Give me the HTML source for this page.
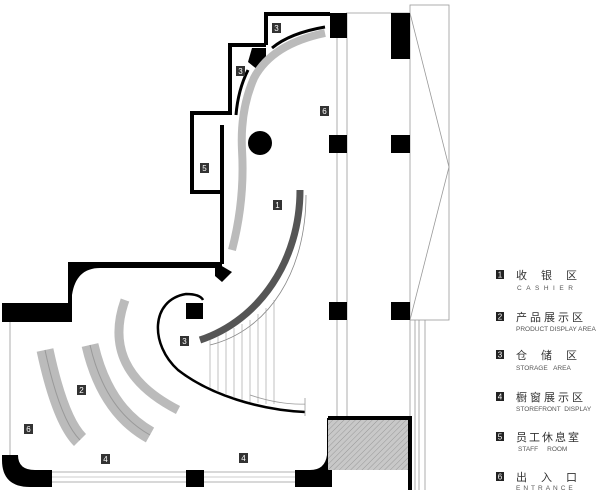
<!DOCTYPE html>
<html><head><meta charset="utf-8"><style>
html,body{margin:0;padding:0;background:#fff;width:611px;height:494px;overflow:hidden}
svg{display:block}
.lb{font-family:"Liberation Sans","Noto Sans CJK SC",sans-serif}
</style></head><body>
<svg width="611" height="494" viewBox="0 0 611 494" xmlns="http://www.w3.org/2000/svg">
<defs>
<pattern id="h" width="4" height="4" patternUnits="userSpaceOnUse" patternTransform="rotate(45)">
<rect width="4" height="4" fill="#c8c8c8"/><line x1="0" y1="0" x2="0" y2="4" stroke="#999" stroke-width="1"/>
</pattern>
</defs>
<g fill="none" stroke="#999" stroke-width="0.8">
<line x1="337" y1="13" x2="337" y2="470"/>
<line x1="347" y1="13" x2="347" y2="418"/>
<line x1="346" y1="13" x2="410" y2="13"/>
<rect x="410" y="5" width="39" height="315"/>
<polyline points="410,13 449,167 410,320"/>
<line x1="410" y1="320" x2="410" y2="490"/>
<line x1="415" y1="320" x2="415" y2="490"/>
<line x1="419" y1="320" x2="419" y2="490"/>
<line x1="425" y1="320" x2="425" y2="490"/>
<line x1="10" y1="322" x2="10" y2="455"/>
<line x1="50" y1="472" x2="295" y2="472"/>
<line x1="50" y1="482" x2="295" y2="482"/>
<line x1="50" y1="477" x2="295" y2="477" stroke="#bbb"/>
</g>
<g fill="#000">
<rect x="330" y="13" width="17" height="25"/>
<rect x="391" y="13" width="19" height="46"/>
<rect x="329" y="135" width="18" height="18"/>
<rect x="391" y="135" width="19" height="18"/>
<rect x="329" y="302" width="18" height="18"/>
<rect x="391" y="302" width="19" height="18"/>
<rect x="186" y="470" width="18" height="17"/>
<circle cx="260" cy="143" r="12"/>
<path d="M2,303 H68 V262 H222 V268 H100 Q76,268 72,295 V322 H2Z"/>
<path d="M2,455 H18 Q18,470 35,470 H52 V487 H30 Q2,487 2,460Z"/>
<path d="M295,487 V470 H310 Q325,470 327,455 V418 H332 V487Z"/>
<path d="M215,262 L232,272 L222,282 L215,276Z"/>
<rect x="186" y="303" width="17" height="16"/>
<path d="M252,48 L266,48 L266,58 L258,70 L248,62Z"/>
</g>
<g fill="none" stroke="#000" stroke-width="4">
<polyline points="330,14 266,14 266,45"/>
<polyline points="266,45 230,45 230,115"/>
<polyline points="228,113 192,113 192,192 222,192"/>
<polyline points="222,125 222,264"/>
</g>
<path d="M325,33 Q272,44 254,78 Q240,110 242,150 Q245,200 232,250" fill="none" stroke="#bbb" stroke-width="8"/>
<path d="M325,27 Q290,33 272,48" fill="none" stroke="#000" stroke-width="3"/>
<path d="M248,70 Q238,90 236,115" fill="none" stroke="#000" stroke-width="3"/>
<path d="M300,190 C300,260 260,320 200,340" fill="none" stroke="#555" stroke-width="7"/>
<path d="M306,195 C306,270 270,330 210,345" fill="none" stroke="#888" stroke-width="0.8"/>
<path d="M203,300 Q200,294 186,294 C150,300 150,345 178,370 C210,395 260,410 305,412" fill="none" stroke="#000" stroke-width="2.5"/>
<path d="M305,398 L305,416 M250,395 Q280,405 305,404" fill="none" stroke="#999" stroke-width="0.8"/>
<g stroke="#999" stroke-width="0.6">
<line x1="210" y1="340" x2="210" y2="388"/><line x1="218" y1="336" x2="218" y2="392"/>
<line x1="226" y1="332" x2="226" y2="395"/><line x1="234" y1="328" x2="234" y2="398"/>
<line x1="242" y1="324" x2="242" y2="400"/><line x1="250" y1="320" x2="250" y2="402"/>
<line x1="258" y1="314" x2="258" y2="403"/><line x1="266" y1="308" x2="266" y2="404"/>
<line x1="274" y1="300" x2="274" y2="404"/>
</g>
<g fill="none" stroke-linecap="butt">
<path d="M45,350 Q60,420 80,440" stroke="#bbb" stroke-width="17"/>
<path d="M45,350 Q60,420 80,440" stroke="#999" stroke-width="1"/>
<path d="M90,345 Q105,410 150,435" stroke="#bbb" stroke-width="17"/>
<path d="M90,345 Q105,410 150,435" stroke="#999" stroke-width="1"/>
<path d="M125,300 Q100,370 178,410" stroke="#bbb" stroke-width="9"/>
</g>
<rect x="328" y="418" width="82" height="52" fill="url(#h)"/>
<path d="M328,418 H410 V490" fill="none" stroke="#000" stroke-width="4"/>
<g class="lb" font-size="8" fill="#fff" text-anchor="middle">
<rect x="272" y="23" width="9" height="10" fill="#333"/><text x="276.5" y="31">3</text>
<rect x="236" y="66" width="9" height="10" fill="#333"/><text x="240.5" y="74">3</text>
<rect x="200" y="163" width="9" height="10" fill="#333"/><text x="204.5" y="171">5</text>
<rect x="320" y="106" width="9" height="10" fill="#333"/><text x="324.5" y="114">6</text>
<rect x="273" y="200" width="9" height="10" fill="#333"/><text x="277.5" y="208">1</text>
<rect x="180" y="336" width="9" height="10" fill="#333"/><text x="184.5" y="344">3</text>
<rect x="77" y="385" width="9" height="10" fill="#333"/><text x="81.5" y="393">2</text>
<rect x="24" y="424" width="9" height="10" fill="#333"/><text x="28.5" y="432">6</text>
<rect x="101" y="454" width="9" height="10" fill="#333"/><text x="105.5" y="462">4</text>
<rect x="239" y="453" width="9" height="10" fill="#333"/><text x="243.5" y="461">4</text>
</g>
<g class="lb" fill="#333">
<g font-size="8" fill="#fff" text-anchor="middle">
<rect x="496" y="270" width="8" height="9" fill="#222"/><text x="500" y="277.5">1</text>
<rect x="496" y="312" width="8" height="9" fill="#222"/><text x="500" y="319.5">2</text>
<rect x="496" y="350" width="8" height="9" fill="#222"/><text x="500" y="357.5">3</text>
<rect x="496" y="392" width="8" height="9" fill="#222"/><text x="500" y="399.5">4</text>
<rect x="496" y="432" width="8" height="9" fill="#222"/><text x="500" y="439.5">5</text>
<rect x="496" y="472" width="8" height="9" fill="#222"/><text x="500" y="479.5">6</text>
</g>
<g font-size="11">
<text x="516" y="279" letter-spacing="14">收银区</text>
<text x="516" y="321" letter-spacing="3">产品展示区</text>
<text x="516" y="359" letter-spacing="14">仓储区</text>
<text x="516" y="401" letter-spacing="3">橱窗展示区</text>
<text x="516" y="441" letter-spacing="2">员工休息室</text>
<text x="516" y="481" letter-spacing="14">出入口</text>
</g>
<g font-size="6.5" fill="#555">
<text x="517" y="290" letter-spacing="4.5">CASHIER</text>
<text x="516" y="331">PRODUCT DISPLAY AREA</text>
<text x="516" y="370">STORAGE&#160;&#160;&#160;AREA</text>
<text x="516" y="411">STOREFRONT&#160;&#160;DISPLAY</text>
<text x="518" y="451">STAFF&#160;&#160;&#160;&#160;&#160;ROOM</text>
<text x="516" y="490" letter-spacing="3">ENTRANCE</text>
</g>
</g>
</svg>
</body></html>
